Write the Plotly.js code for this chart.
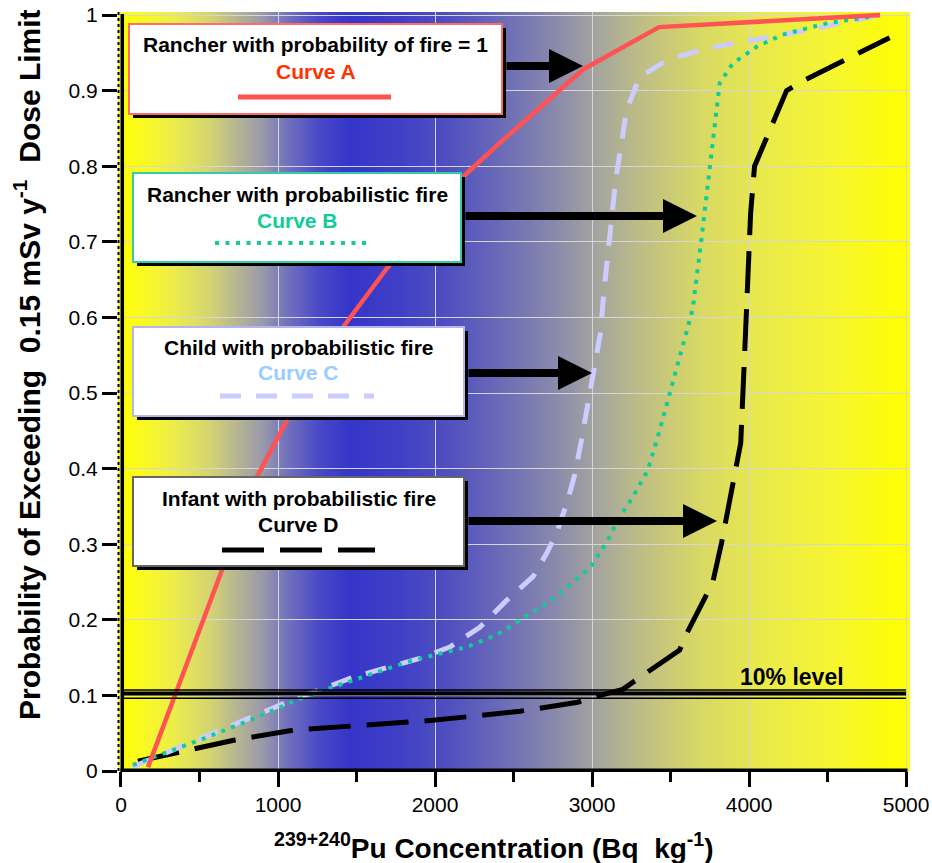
<!DOCTYPE html>
<html><head><meta charset="utf-8">
<script src="https://cdn.plot.ly/plotly-3.0.1.min.js"></script>
<style>html,body{margin:0;padding:0;background:#fff}</style>
</head><body><div id="chart" style="width:932px;height:863px"></div>
<script>
// ---------- data ----------
const curveA_x = [172, 866, 1057, 1414, 1694, 2178, 2414, 2943, 3427, 4834];
const curveA_y = [0.005, 0.389, 0.464, 0.587, 0.665, 0.786, 0.831, 0.928, 0.984, 1.0];

const curveB_x = [76, 503, 866, 1120, 1350, 1820, 1986, 2202, 2393, 2560, 2731, 2877, 2985, 3094, 3176, 3259, 3355, 3431, 3501, 3571, 3641, 3698, 3736, 3768, 3794, 3813, 3896, 4048, 4214, 4494, 4752, 4834];
const curveB_y = [0.008, 0.041, 0.071, 0.094, 0.111, 0.144, 0.153, 0.164, 0.18, 0.202, 0.224, 0.25, 0.268, 0.303, 0.336, 0.362, 0.398, 0.451, 0.504, 0.558, 0.611, 0.706, 0.775, 0.831, 0.874, 0.910, 0.936, 0.958, 0.974, 0.989, 0.997, 1.0];

const curveC_x = [70, 503, 1057, 1477, 1808, 1903, 2094, 2285, 2457, 2624, 2711, 2775, 2845, 2890, 2934, 2973, 3017, 3055, 3074, 3100, 3125, 3151, 3220, 3303, 3475, 3730, 4023, 4322, 4834];
const curveC_y = [0.005, 0.043, 0.091, 0.124, 0.144, 0.149, 0.164, 0.19, 0.226, 0.257, 0.288, 0.315, 0.358, 0.392, 0.439, 0.487, 0.534, 0.581, 0.631, 0.680, 0.726, 0.782, 0.874, 0.918, 0.940, 0.956, 0.967, 0.978, 1.0];

const curveD_x = [108, 376, 726, 1095, 1458, 1986, 2541, 2909, 3017, 3195, 3348, 3558, 3603, 3717, 3768, 3825, 3896, 3947, 3972, 3991, 4010, 4035, 4239, 4335, 4660, 4895];
const curveD_y = [0.013, 0.025, 0.041, 0.054, 0.059, 0.067, 0.079, 0.091, 0.098, 0.108, 0.130, 0.160, 0.182, 0.226, 0.249, 0.302, 0.381, 0.434, 0.553, 0.649, 0.738, 0.800, 0.900, 0.912, 0.945, 0.970];

const levelValue = 0.1;
const levelLabel = "10% level";

const boxTitles = ["Rancher with probability of fire = 1", "Rancher with probabilistic fire", "Child with probabilistic fire", "Infant with probabilistic fire"];
const curveNames = ["Curve A", "Curve B", "Curve C", "Curve D"];

const xTitle = "<sup>239+240</sup>Pu Concentration (Bq&nbsp; kg<sup>-1</sup>)";
const yTitle = "Probability of Exceeding&nbsp; 0.15 mSv y<sup>-1</sup>&nbsp; Dose Limit";

// ---------- styling ----------
const FONT = "Liberation Sans, Arial, Helvetica, sans-serif";
const colA = "#ff5252", colB = "#11cc99", colC = "#ccccff", colD = "#000000";
const dashB = "4px,6.5px", dashC = "21px,15px", dashD = "42px,16px";

// plot area in pixels
const L = 118, R = 910, T = 12, B = 771;
const px = p => (p - L) / (R - L);
const py = p => (B - p) / (B - T);

// gradient background (decoration)
const stops = [
  [0.000, "#ffff00"], [0.030, "#fafa20"], [0.072, "#ecec4c"], [0.116, "#d4d472"],
  [0.154, "#b2b296"], [0.182, "#9a9aaa"], [0.211, "#7474bc"], [0.255, "#4848c8"],
  [0.293, "#3535c9"], [0.356, "#4040c6"], [0.419, "#5050c0"], [0.482, "#6a6ab8"],
  [0.545, "#8686ae"], [0.602, "#a3a3a0"], [0.659, "#bdbd86"], [0.735, "#d8d866"],
  [0.811, "#e9e94c"], [0.899, "#f5f532"], [1.000, "#ffff00"]
];
let svg = "<svg xmlns='http://www.w3.org/2000/svg' width='792' height='759' viewBox='0 0 792 759' preserveAspectRatio='none'><defs><linearGradient id='g' x1='0' x2='1' y1='0' y2='0'>";
stops.forEach(s => { svg += "<stop offset='" + s[0] + "' stop-color='" + s[1] + "'/>"; });
svg += "</linearGradient></defs><rect width='792' height='759' fill='url(#g)'/></svg>";
const bgSrc = "data:image/svg+xml;charset=utf-8," + encodeURIComponent(svg);

// ---------- traces ----------
const traces = [
  {x: curveD_x, y: curveD_y, mode: "lines", line: {color: colD, width: 5, dash: dashD}, hoverinfo: "skip"},
  {x: curveC_x, y: curveC_y, mode: "lines", line: {color: colC, width: 5, dash: dashC}, hoverinfo: "skip"},
  {x: curveB_x, y: curveB_y, mode: "lines", line: {color: colB, width: 4, dash: dashB}, hoverinfo: "skip"},
  {x: curveA_x, y: curveA_y, mode: "lines", line: {color: colA, width: 4.5}, hoverinfo: "skip"}
];

// ---------- boxes ----------
const boxes = [
  {x0: 129, x1: 502, y0: 24, y1: 114, border: "#ff6a6a", t1: 45, t2: 71, c2: "#ff3300", sample: {x0: 238, x1: 391, y: 97, color: colA, dash: "solid", w: 5}, arrow: {tip: 583, y: 66}},
  {x0: 133, x1: 461, y0: 173, y1: 262, border: "#33ccaa", t1: 194, t2: 220, c2: colB, sample: {x0: 215, x1: 366, y: 243, color: colB, dash: dashB, w: 4}, arrow: {tip: 697, y: 216}},
  {x0: 133, x1: 464, y0: 327, y1: 416, border: "#b4b4ee", t1: 347, t2: 372, c2: "#99ccff", sample: {x0: 220, x1: 374, y: 396, color: colC, dash: dashC, w: 5}, arrow: {tip: 592, y: 373}},
  {x0: 133, x1: 464, y0: 477, y1: 566, border: "#666666", t1: 499, t2: 524, c2: "#000000", sample: {x0: 222, x1: 375, y: 550, color: colD, dash: dashD, w: 5}, arrow: {tip: 717, y: 521}}
];

const shapes = [];
const annotations = [];

// axis lines
shapes.push({type: "line", xref: "paper", yref: "paper", x0: px(118.5), x1: px(118.5), y0: py(12), y1: py(771), line: {color: "#000", width: 2, dash: "3px,3px"}});
shapes.push({type: "line", xref: "paper", yref: "paper", x0: px(122.3), x1: px(122.3), y0: py(14), y1: py(772), line: {color: "#000", width: 3.5}});
shapes.push({type: "line", xref: "paper", yref: "paper", x0: px(120.5), x1: px(907.5), y0: py(770.2), y1: py(770.2), line: {color: "#000", width: 3.4}});

// 10% level lines
shapes.push({type: "line", xref: "x", yref: "y", x0: 0, x1: 5000, y0: levelValue + 0.0071, y1: levelValue + 0.0071, line: {color: "#000", width: 1.4}});
shapes.push({type: "line", xref: "x", yref: "y", x0: 0, x1: 5000, y0: levelValue + 0.0025, y1: levelValue + 0.0025, line: {color: "#000", width: 3.8}});
shapes.push({type: "line", xref: "x", yref: "y", x0: 0, x1: 5000, y0: levelValue - 0.0038, y1: levelValue - 0.0038, line: {color: "#000", width: 1.4}});
annotations.push({xref: "paper", yref: "paper", x: px(792), y: py(677), text: "<b>" + levelLabel + "</b>", showarrow: false, xanchor: "center", yanchor: "middle", font: {family: FONT, size: 23, color: "#000"}});

boxes.forEach((b, i) => {
  // arrow
  annotations.push({xref: "paper", yref: "paper", x: px(b.arrow.tip), y: py(b.arrow.y), ax: -(b.arrow.tip - b.x1 - 3), ay: 0, axref: "pixel", ayref: "pixel",
    text: "", showarrow: true, arrowhead: 2, arrowsize: 0.85, arrowwidth: 8, arrowcolor: "#000"});
  // shadow
  shapes.push({type: "rect", xref: "paper", yref: "paper", x0: px(b.x0 + 4), x1: px(b.x1 + 4), y0: py(b.y0 + 4), y1: py(b.y1 + 4), fillcolor: "#000", line: {width: 0}, layer: "above"});
  // box
  shapes.push({type: "rect", xref: "paper", yref: "paper", x0: px(b.x0), x1: px(b.x1), y0: py(b.y0), y1: py(b.y1), fillcolor: "#fff", line: {color: b.border, width: 2}, layer: "above"});
  // sample
  shapes.push({type: "line", xref: "paper", yref: "paper", x0: px(b.sample.x0), x1: px(b.sample.x1), y0: py(b.sample.y), y1: py(b.sample.y), line: {color: b.sample.color, width: b.sample.w, dash: b.sample.dash}, layer: "above"});
  const cx = px((b.x0 + b.x1) / 2);
  annotations.push({xref: "paper", yref: "paper", x: cx, y: py(b.t1), text: "<b>" + boxTitles[i] + "</b>", showarrow: false, xanchor: "center", yanchor: "middle", font: {family: FONT, size: 21, color: "#000"}});
  annotations.push({xref: "paper", yref: "paper", x: cx, y: py(b.t2), text: "<b>" + curveNames[i] + "</b>", showarrow: false, xanchor: "center", yanchor: "middle", font: {family: FONT, size: 21, color: b.c2}});
});

// axis titles
annotations.push({xref: "paper", yref: "paper", x: px(494), y: py(846), text: "<b>" + xTitle + "</b>", showarrow: false, xanchor: "center", yanchor: "middle", font: {family: FONT, size: 28, color: "#000"}});
annotations.push({xref: "paper", yref: "paper", x: px(27), y: py(365), text: "<b>" + yTitle + "</b>", showarrow: false, textangle: -90, xanchor: "center", yanchor: "middle", font: {family: FONT, size: 30, color: "#000"}});

const layout = {
  width: 932, height: 863,
  margin: {l: L, r: 932 - R, t: T, b: 863 - B, pad: 0},
  paper_bgcolor: "#ffffff", plot_bgcolor: "rgba(0,0,0,0)",
  showlegend: false,
  xaxis: {range: [-19, 5025], tickmode: "linear", tick0: 0, dtick: 1000, ticks: "outside", ticklen: 15, tickwidth: 3, tickcolor: "#000",
    minor: {tick0: 0, dtick: 500, ticks: "outside", ticklen: 10, tickwidth: 3, tickcolor: "#000", showgrid: false},
    showgrid: true, gridcolor: "#d6d6d6", gridwidth: 1, zeroline: false, showline: false,
    tickfont: {family: FONT, size: 21, color: "#000"}, fixedrange: true},
  yaxis: {range: [0, 1.004], tickmode: "linear", tick0: 0, dtick: 0.1, ticks: "outside", ticklen: 15, tickwidth: 3, tickcolor: "#000",
    showgrid: true, gridcolor: "#d6d6d6", gridwidth: 1, zeroline: false, showline: false,
    tickfont: {family: FONT, size: 21, color: "#000"}, fixedrange: true},
  images: [{source: bgSrc, xref: "x", yref: "y", x: -19, y: 1.004, sizex: 5044, sizey: 1.004, xanchor: "left", yanchor: "top", sizing: "stretch", layer: "below"}],
  shapes: shapes,
  annotations: annotations
};

Plotly.newPlot("chart", traces, layout, {displayModeBar: false, staticPlot: true});
</script>
</body></html>
